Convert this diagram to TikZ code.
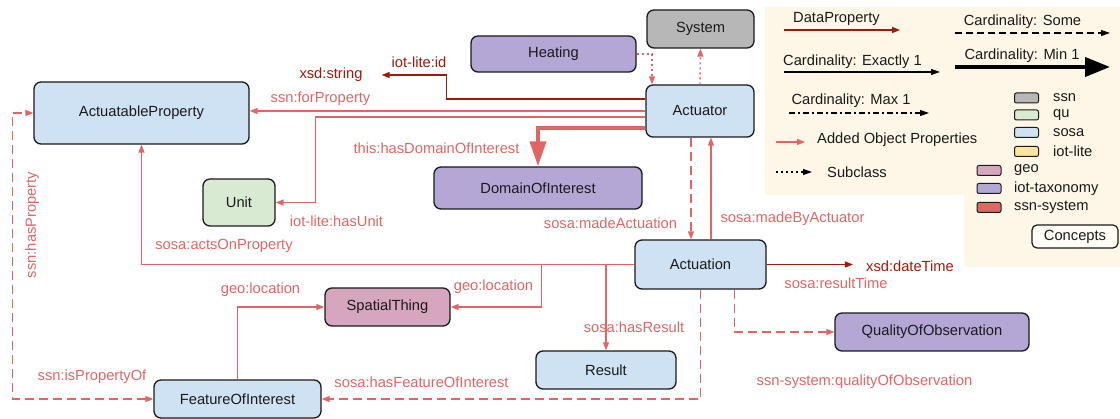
\documentclass[tikz,border=0pt]{standalone}
\usepackage{fontspec}
\setmainfont{Liberation Sans}
\usetikzlibrary{arrows.meta,calc}
\definecolor{linkc}{HTML}{E06666}
\definecolor{datac}{HTML}{9C1C0C}
\definecolor{sosac}{HTML}{CFE2F3}
\definecolor{quc}{HTML}{D9EAD3}
\definecolor{ssnc}{HTML}{B7B7B7}
\definecolor{taxc}{HTML}{B4A7D6}
\definecolor{geoc}{HTML}{D5A6BD}
\definecolor{litec}{HTML}{FFE599}
\definecolor{sysc}{HTML}{E06666}
\definecolor{legbg}{HTML}{FEF7E8}
\definecolor{textc}{HTML}{1A1A1A}
\tikzset{
  cls/.style={draw=textc, line width=1.3pt, rounded corners=7pt, inner sep=0pt, text=textc},
  lbl/.style={inner sep=0pt, text=linkc},
  dlbl/.style={inner sep=0pt, text=datac},
  ltxt/.style={inner sep=0pt, text=textc},
  tipA/.tip={Triangle[length=8pt,width=6pt]},
  objp/.style={draw=linkc, line width=1.4pt, -tipA},
  datap/.style={draw=datac, line width=1.4pt, -tipA},
  dash2/.style={dash pattern=on 9pt off 5pt},
  subp/.style={draw=linkc, line width=1.4pt, dash pattern=on 2pt off 3pt, -tipA},
  thickp/.style={draw=linkc, line width=4pt, -{Triangle[length=25pt,width=16pt]}},
  swatch/.style={draw=textc, line width=1pt, rounded corners=2pt, minimum width=24pt, minimum height=10pt, inner sep=0pt},
}
\begin{document}
\begin{tikzpicture}[x=1pt,y=-1pt,font=\fontsize{14.7}{17}\selectfont]
\useasboundingbox (0,0) rectangle (1120,419);
% legend background
\fill[legbg] (765,7) rectangle (1120,195);
\fill[legbg] (964,195) rectangle (1120,267);

% class nodes
\node[cls, fill=sosac, minimum width=215pt, minimum height=62pt] (ap) at (141.5,113) {ActuatableProperty};
\node[cls, fill=taxc, minimum width=165pt, minimum height=36pt] (heat) at (553.5,54) {Heating};
\node[cls, fill=ssnc, minimum width=107pt, minimum height=38pt] (sys) at (700.5,29) {System};
\node[cls, fill=sosac, minimum width=108pt, minimum height=52pt] (act) at (700,111) {Actuator};
\node[cls, fill=taxc, minimum width=208pt, minimum height=42pt] (doi) at (538,188) {DomainOfInterest};
\node[cls, fill=quc, minimum width=72pt, minimum height=47pt] (unit) at (239,202.5) {Unit};
\node[cls, fill=sosac, minimum width=131pt, minimum height=49pt] (actn) at (700.5,264.5) {Actuation};
\node[cls, fill=geoc, minimum width=125pt, minimum height=38pt] (spat) at (387.5,307) {SpatialThing};
\node[cls, fill=sosac, minimum width=140pt, minimum height=38pt] (res) at (606,370) {Result};
\node[cls, fill=sosac, minimum width=167pt, minimum height=38pt] (foi) at (237.5,399) {FeatureOfInterest};
\node[cls, fill=taxc, minimum width=194pt, minimum height=38pt] (qoo) at (932,332) {QualityOfObservation};

% data value nodes
\node[dlbl] (xsdstr) at (331,75) {xsd:string};
\node[dlbl] (xsddt) at (910,266) {xsd:dateTime};

% connectors
\draw[datap] ([yshift=12pt]act.west) -- ++(-199,0) |- ([xshift=19pt]xsdstr.east);
\draw[objp] (act.west) -- (act.west -| ap.east);
\draw[objp] ([yshift=-6pt]act.west) -- ++(-330,0) |- (unit.east);
\draw[thickp] ([yshift=-17pt]act.west) -| (doi.north);
\draw[subp] (heat.east) -| ([xshift=-48pt]act.north);
\draw[subp] (act.north) -- (sys.south);
\draw[objp, dash2] ([xshift=-9pt]act.south) -- ([xshift=-9.5pt]actn.north);
\draw[objp] ([xshift=10.5pt]actn.north) -- ([xshift=11pt]act.south);
\draw[objp] (actn.west) -| (ap.south);
\draw[objp] (actn.west) -- ++(-93,0) |- (spat.east);
\draw[objp] (actn.west -| res.north) -- (res.north);
\draw[datap] (actn.east) -- ([xshift=-13pt]xsddt.west |- actn.east);
\draw[objp, dash2] (actn.south) |- (foi.east);
\draw[objp, dash2] ([xshift=34pt]actn.south) |- (qoo.west);
\draw[objp] (foi.north) |- (spat.west);
\draw[objp, dash2, tipA-tipA] (foi.west) -- ++(-141,0) |- (ap.west);

% connector labels
\node[dlbl] (l1) at (419,62) {iot-lite:id};
\node[lbl] (l2) at (320.5,99) {ssn:forProperty};
\node[lbl] (l3) at (436.5,148) {this:hasDomainOfInterest};
\node[lbl] (l4) at (336.5,221) {iot-lite:hasUnit};
\node[lbl] (l5) at (224,246) {sosa:actsOnProperty};
\node[lbl] (l6) at (610.5,223) {sosa:madeActuation};
\node[lbl] (l7) at (792.5,219) {sosa:madeByActuator};
\node[lbl] (l8) at (836,283) {sosa:resultTime};
\node[lbl] (l9) at (493.5,287) {geo:location};
\node[lbl] (l10) at (260.5,290) {geo:location};
\node[lbl] (l11) at (634,327) {sosa:hasResult};
\node[lbl] (l12) at (864.5,382) {ssn-system:qualityOfObservation};
\node[lbl] (l13) at (421.5,382) {sosa:hasFeatureOfInterest};
\node[lbl] (l14) at (92,377) {ssn:isPropertyOf};
\node[lbl, rotate=90] (l15) at (32,225) {ssn:hasProperty};

% legend
\node[ltxt] (g1) at (836.5,19) {DataProperty};
\coordinate (g1a) at (784,30); \coordinate (g1b) at (900,30);
\draw[datap] (g1a) -- (g1b);
\node[ltxt] (g2) at (1022.5,22) {Cardinality: Some};
\coordinate (g2a) at (955,33); \coordinate (g2b) at (1110,33);
\draw[line width=1.2pt, dash pattern=on 7pt off 4pt, -{Triangle[length=9pt,width=6pt]}] (g2a) -- (g2b);
\node[ltxt] (g3) at (852.5,62) {Cardinality: Exactly 1};
\coordinate (g3a) at (784,72); \coordinate (g3b) at (940,72);
\draw[line width=1.2pt, -{Triangle[length=9pt,width=6pt]}] (g3a) -- (g3b);
\node[ltxt] (g4) at (1022,56) {Cardinality: Min 1};
\coordinate (g4a) at (955,67); \coordinate (g4b) at (1110,67);
\draw[line width=4pt, -{Triangle[length=25pt,width=19pt]}] (g4a) -- (g4b);
\node[ltxt] (g5) at (851,101) {Cardinality: Max 1};
\coordinate (g5a) at (789,113); \coordinate (g5b) at (929,113);
\draw[line width=1.2pt, dash pattern=on 6pt off 3pt on 2pt off 3pt, -{Triangle[length=9pt,width=6pt]}] (g5a) -- (g5b);
\coordinate (g6a) at (776,142); \coordinate (g6b) at (805,142);
\draw[objp] (g6a) -- (g6b);
\node[ltxt, anchor=west] (g6) at (817,140) {Added Object Properties};
\coordinate (g7a) at (776,172); \coordinate (g7b) at (812,172);
\draw[line width=1.2pt, dash pattern=on 2pt off 3pt, -{Triangle[length=9pt,width=6pt]}] (g7a) -- (g7b);
\node[ltxt, anchor=west] (g7) at (827,172) {Subclass};

\node[swatch, fill=ssnc] (s1) at (1026.5,98) {};
\node[ltxt, anchor=west] (t1) at (1053,98) {ssn};
\node[swatch, fill=quc] (s2) at (1026.5,115) {};
\node[ltxt, anchor=west] (t2) at (1053,115) {qu};
\node[swatch, fill=sosac] (s3) at (1026.5,132.5) {};
\node[ltxt, anchor=west] (t3) at (1053,132.5) {sosa};
\node[swatch, fill=litec] (s4) at (1026.5,151.5) {};
\node[ltxt, anchor=west] (t4) at (1053,151.5) {iot-lite};
\node[swatch, fill=geoc] (s5) at (989,170.5) {};
\node[ltxt, anchor=west] (t5) at (1014,170.5) {geo};
\node[swatch, fill=taxc] (s6) at (989,188.5) {};
\node[ltxt, anchor=west] (t6) at (1014,188.5) {iot-taxonomy};
\node[swatch, fill=sysc] (s7) at (989,207.5) {};
\node[ltxt, anchor=west] (t7) at (1014,207.5) {ssn-system};
\node[draw=textc, line width=1.2pt, rounded corners=5pt, fill=white!60!legbg, minimum width=86pt, minimum height=23pt, inner sep=0pt, text=textc] (conc) at (1075,236.5) {Concepts};
\end{tikzpicture}
\end{document}
